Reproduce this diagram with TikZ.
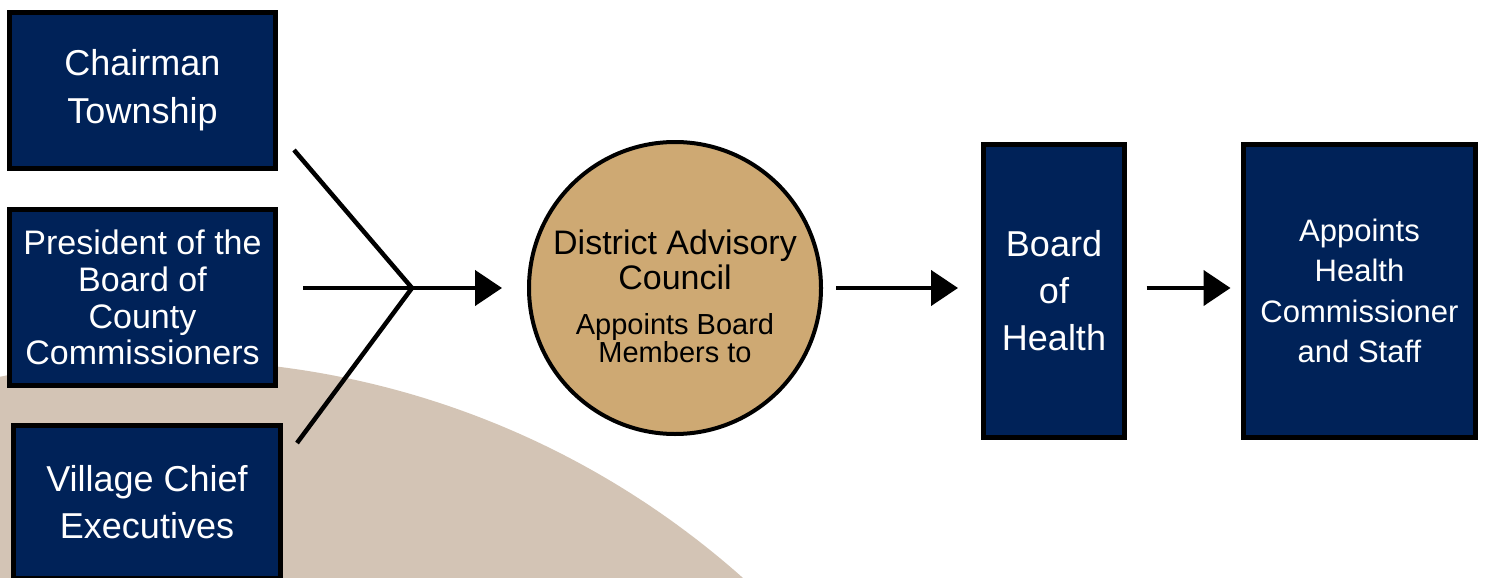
\documentclass[tikz,border=0pt]{standalone}
\usepackage{fontspec}
\setmainfont{Liberation Sans}
\usetikzlibrary{arrows.meta,calc}
\definecolor{navy}{RGB}{0,34,88}
\definecolor{tanfill}{RGB}{206,169,115}
\definecolor{beige}{RGB}{211,196,181}
\begin{document}
\begin{tikzpicture}[x=1pt,y=-1pt,
  box/.style={draw=black,line width=5pt,fill=navy,text=white,align=center,inner sep=0pt,outer sep=0pt},
  council/.style={circle,draw=black,line width=4pt,fill=tanfill,inner sep=0pt,outer sep=0pt,minimum size=292pt},
  counciltext/.style={text=black,align=center,inner sep=0pt,outer sep=0pt},
  conn/.style={line width=4.5pt,line join=miter},
  arr/.style={line width=4.5pt,-{Triangle[length=27pt,width=35pt]}}]
\useasboundingbox (0,0) rectangle (1486,578);
\fill[white] (0,0) rectangle (1486,578);
\begin{scope}
\clip (0,0) rectangle (1486,578);
\fill[beige] (170,1222) circle[radius=862pt];
\node[box,minimum width=266pt,minimum height=156pt,font=\fontsize{36}{48}\selectfont] (chair) at (142.5,90.5) {Chairman\\Township};
\node[box,minimum width=266pt,minimum height=176pt,font=\fontsize{34}{36.7}\selectfont] (pres) at (142.5,297.5) {President of the\\Board of\\County\\Commissioners};
\node[box,minimum width=267pt,minimum height=153pt,font=\fontsize{36}{47}\selectfont] (village) at (147,502) {Village Chief\\Executives};
\node[council] (dac) at (675,288) {};
\node[counciltext,font=\fontsize{34}{35}\selectfont] (dact1) at (675,260.3) {District Advisory\\Council};
\node[counciltext,font=\fontsize{29}{28}\selectfont] (dact2) at (675,338.6) {Appoints Board\\Members to};
\node[box,minimum width=141pt,minimum height=293pt,font=\fontsize{36}{47}\selectfont] (boh) at (1054,291) {Board\\of\\Health};
\node[box,minimum width=232pt,minimum height=293pt,font=\fontsize{31}{40.3}\selectfont] (appt) at (1359.5,291) {Appoints\\Health\\Commissioner\\and Staff};
\end{scope}
\coordinate (j) at (412,288);
\coordinate (s1) at (294,150);
\coordinate (s2) at (303,288);
\coordinate (s3) at (297,443);
\draw[conn] (s1) -- (j) -- (s3);
\draw[conn] (s2) -- (j);
\draw[arr,shorten >=27pt] (j) -- (dac.west);
\draw[arr,shorten <=15pt,shorten >=25.5pt] (dac.east) -- (dac.east -| boh.west);
\draw[arr,shorten <=22pt,shorten >=13pt] (boh.east |- dac.east) -- (appt.west |- dac.east);
\end{tikzpicture}
\end{document}
